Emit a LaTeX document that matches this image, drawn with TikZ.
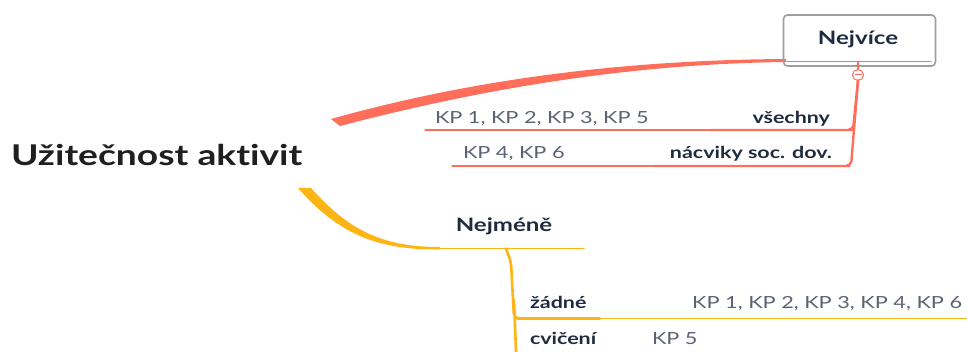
\documentclass[tikz,border=0pt]{standalone}
\usepackage{fontspec}
\setmainfont{Lato}[FakeStretch=1.3, Ligatures={NoCommon}]
\begin{document}
\begin{tikzpicture}[x=1pt,y=-1pt,
  every node/.style={inner sep=0pt, outer sep=0pt},
  topic/.style={font=\fontsize{18.5}{21}\selectfont\bfseries, text=navy},
  keyword/.style={font=\fontsize{16.5}{19}\selectfont\bfseries, text=navy},
  value/.style={font=\fontsize{16.7}{19}\selectfont, text=slate},
  redline/.style={draw=coral, line width=1.3pt, line cap=round},
  redthick/.style={draw=coral, line width=2.4pt, line cap=round},
  yelline/.style={draw=amber, line width=1.3pt, line cap=round},
  yelthick/.style={draw=amber, line width=2.6pt, line cap=round}]
\definecolor{coral}{HTML}{FF6E5A}
\definecolor{amber}{HTML}{FDB515}
\definecolor{navy}{HTML}{1E2B3F}
\definecolor{slate}{HTML}{5A6272}
\useasboundingbox (0,0) rectangle (967,352);

% central topic
\node[anchor=base west, font=\fontsize{28.6}{31}\selectfont\bfseries, text=black!88] (root) at (11,166) {Užitečnost aktivit};

% tapered red branch towards "Nejvíce"
\fill[coral] (331,119) .. controls (470,80) and (620,60) .. (786,59)
  -- (786,62) .. controls (620,64) and (470,92) .. (340,126) -- cycle;

% "Nejvíce" box
\node[draw=gray!75, line width=1.6pt, rounded corners=4pt, minimum width=152pt, minimum height=51pt] (most) at (859.5,40.5) {};
\node[topic, anchor=base] (mosttxt) at (858,45) {Nejvíce};
\draw[redline] (787,61.5) -- (931,61.5);

% collapse marker
\node[circle, draw=coral, line width=1pt, minimum size=11pt, fill=white] (fold) at (858,75) {};
\draw[redthick] (858,62) -- (fold.north);
\draw[draw=coral, line width=1pt] ([xshift=-3.5pt]fold.center) -- ([xshift=3.5pt]fold.center);

% red sub-branches
\coordinate (r1) at (848,130);
\coordinate (r2) at (845,166);
\draw[redthick, rounded corners=5pt] (fold.south) -- (853,130) -- (r1) -- (710,130);
\draw[redthick, rounded corners=5pt] (fold.south) -- (851,166) -- (r2) -- (655,166);
\draw[redline] (710,130) -- (425,130);
\draw[redline] (655,166) -- (452,166);

\node[keyword, anchor=base east] (all) at (830,123.5) {všechny};
\node[value, anchor=base west] (allkp) at (435,123.5) {KP 1, KP 2, KP 3, KP 5};
\node[keyword, anchor=base east] (soc) at (832,158.5) {nácviky soc. dov.};
\node[value, anchor=base west] (sockp) at (463,158.5) {KP 4, KP 6};

% tapered yellow branch towards "Nejméně"
\fill[amber] (298,188) .. controls (340,236) and (380,250) .. (440,249.5)
  -- (440,247) .. controls (385,247) and (350,232) .. (311,188) -- cycle;
\draw[yelline] (438,248.2) -- (584,248.2);
\node[topic, anchor=base] (least) at (504,232) {Nejméně};

% yellow sub-branches
\coordinate (y1) at (522,318.5);
\draw[yelthick, rounded corners=5pt] (506,248.5) -- (511,262) -- (514,318.5) -- (y1) -- (600,318.5);
\draw[yelthick] (514,300) -- (516,352);
\draw[yelline] (600,318.5) -- (967,318.5);

\node[keyword, anchor=base west] (none) at (530,309) {žádné};
\node[value, anchor=base east] (nonekp) at (962,309) {KP 1, KP 2, KP 3, KP 4, KP 6};
\node[keyword, anchor=base west] (drill) at (530,345) {cvičení};
\node[value, anchor=base west] (drillkp) at (652,345) {KP 5};
\end{tikzpicture}
\end{document}
